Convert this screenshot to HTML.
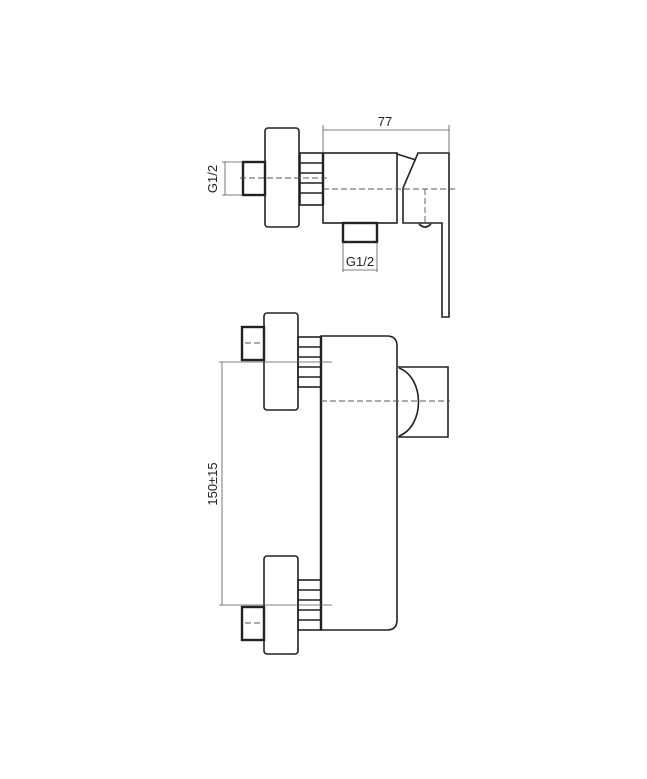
<!DOCTYPE html>
<html><head><meta charset="utf-8"><style>
html,body{margin:0;padding:0;background:#fff;}
svg{display:block}
text{font-family:"Liberation Sans",sans-serif;fill:#222}
</style></head><body>
<svg width="647" height="779" viewBox="0 0 647 779" xmlns="http://www.w3.org/2000/svg">
<g fill="none" stroke="#222" stroke-width="1.6">
<!-- TOP VIEW -->
<rect x="265" y="128" width="34" height="99" rx="3"/>
<rect x="243" y="162" width="22" height="33" stroke-width="2.4"/>
<rect x="300" y="153" width="23" height="52"/>
<line x1="300" y1="163" x2="323" y2="163"/><line x1="300" y1="173" x2="323" y2="173"/>
<line x1="300" y1="183" x2="323" y2="183"/><line x1="300" y1="193" x2="323" y2="193"/>
<line x1="323" y1="153" x2="323" y2="205" stroke-width="2.4"/>
<rect x="323" y="153" width="74" height="70"/>
<rect x="343" y="223" width="34" height="19" stroke-width="2.4"/>
<path d="M397 154 L416 160"/>
<path d="M418 153 L449 153 L449 317 L442 317 L442 223 L403 223 L403 188 Z"/>
<path d="M419 224 Q425 230 431 224"/>
<!-- BOTTOM VIEW -->
<rect x="264" y="313" width="34" height="97" rx="3"/>
<rect x="242" y="327" width="22" height="33" stroke-width="2.4"/>
<rect x="298" y="337" width="23" height="50"/>
<line x1="298" y1="347" x2="321" y2="347"/><line x1="298" y1="357" x2="321" y2="357"/>
<line x1="298" y1="367" x2="321" y2="367"/><line x1="298" y1="377" x2="321" y2="377"/>
<rect x="264" y="556" width="34" height="98" rx="3"/>
<rect x="242" y="607" width="22" height="33" stroke-width="2.4"/>
<rect x="298" y="580" width="23" height="50"/>
<line x1="298" y1="590" x2="321" y2="590"/><line x1="298" y1="600" x2="321" y2="600"/>
<line x1="298" y1="610" x2="321" y2="610"/><line x1="298" y1="620" x2="321" y2="620"/>
<path d="M321 336 L387 336 Q397 336 397 346 L397 620 Q397 630 387 630 L321 630 Z"/>
<line x1="321" y1="336" x2="321" y2="630" stroke-width="2.4"/>
<path d="M398 367 L448 367 L448 437 L398 437"/>
<path d="M399 368 C425 378 425 426 399 436"/>
</g>
<g fill="none" stroke="#555" stroke-width="0.8">
<line x1="323" y1="130" x2="449" y2="130"/>
<line x1="323" y1="125" x2="323" y2="153"/><line x1="449" y1="125" x2="449" y2="153"/>
<line x1="225" y1="162" x2="225" y2="195"/>
<line x1="222" y1="162" x2="243" y2="162"/><line x1="222" y1="195" x2="243" y2="195"/>
<line x1="343" y1="242" x2="343" y2="272"/><line x1="377" y1="242" x2="377" y2="272"/>
<line x1="343" y1="270" x2="377" y2="270"/>
<line x1="222" y1="362" x2="222" y2="605"/>
<line x1="219" y1="362" x2="332" y2="362"/>
<line x1="219" y1="605" x2="332" y2="605"/>
</g>
<g fill="none" stroke="#555" stroke-width="0.9" stroke-dasharray="6 3">
<line x1="240" y1="178" x2="330" y2="178"/>
<line x1="323" y1="189" x2="455" y2="189"/>
<line x1="425" y1="189" x2="425" y2="223"/>
<line x1="245" y1="343" x2="262" y2="343"/>
<line x1="245" y1="623" x2="262" y2="623"/>
<line x1="321" y1="401" x2="450" y2="401"/>
</g>
<text x="385" y="126" font-size="13" text-anchor="middle">77</text>
<text x="360" y="266" font-size="13" text-anchor="middle">G1/2</text>
<text transform="translate(217,179) rotate(-90)" font-size="13" text-anchor="middle">G1/2</text>
<text transform="translate(217,484) rotate(-90)" font-size="13" text-anchor="middle">150±15</text>
</svg>
</body></html>
